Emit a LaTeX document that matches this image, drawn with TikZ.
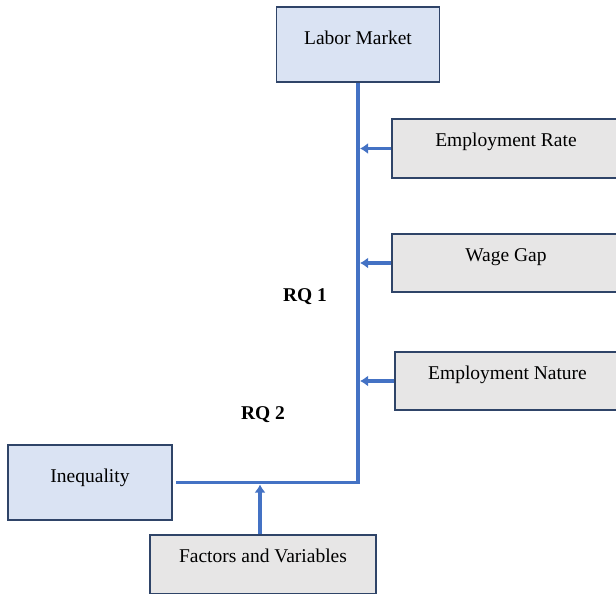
\documentclass[tikz,border=0pt]{standalone}
\usepackage{fontspec}
\setmainfont{Liberation Serif}
\usetikzlibrary{positioning}
\usetikzlibrary{calc}
\usetikzlibrary{arrows,arrows.meta}

\definecolor{boxblue}{HTML}{DAE3F3}
\definecolor{boxgrey}{HTML}{E7E6E6}
\definecolor{boxline}{HTML}{2F4468}
\definecolor{flowblue}{HTML}{4472C4}

\tikzset{
    bluebox/.style={rectangle, draw=boxline, fill=boxblue, line width=1.2pt,
        text height=13pt, text depth=13pt, inner sep=0pt},
    greybox/.style={rectangle, draw=boxline, fill=boxgrey, line width=1.2pt,
        text height=13pt, text depth=17pt, inner sep=0pt},
    flow/.style={draw=flowblue, line width=3.5pt},
    rqlabel/.style={font=\fontsize{19.5}{22}\selectfont\bfseries}
}

\begin{document}
\begin{tikzpicture}[>={Latex[length=8pt,width=11pt]}, x=1pt, y=-1pt, every node/.style={font=\fontsize{19.5}{22}\selectfont}]
    \useasboundingbox (0,0) rectangle (616,594);

    % the boxes
    \node[bluebox, minimum width=163pt, minimum height=75pt] (market) at (358, 44.5) {Labor Market};
    \node[greybox, minimum width=228pt, minimum height=59pt] (rate) at (506, 148.5) {Employment Rate};
    \node[greybox, minimum width=228pt, minimum height=58pt] (gap) at (506, 263) {Wage Gap};
    \node[greybox, minimum width=225pt, minimum height=58pt] (nature) at (507.5, 381) {Employment Nature};
    \node[bluebox, minimum width=164pt, minimum height=75pt] (inequality) at (90, 482.5) {Inequality};
    \node[greybox, minimum width=226pt, minimum height=59pt] (factors) at (263, 564.5) {Factors and Variables};

    % the lines and arrows
    \coordinate (corner) at (market.south |- inequality.east);
    \coordinate (joint) at (260, 484.5);
    \draw[flow] (market.south) -- (corner) -- ([xshift=3pt]inequality.east);
    \draw[flow,->] (rate.west) -- ([xshift=2pt]rate.west -| corner);
    \draw[flow,->] (gap.west) -- ([xshift=2pt]gap.west -| corner);
    \draw[flow,->] (nature.west) -- ([xshift=2pt]nature.west -| corner);
    \draw[flow,->] (joint |- factors.north) -- (joint);

    \node[rqlabel] (rq1) at (305, 297) {RQ 1};
    \node[rqlabel] (rq2) at (263, 415) {RQ 2};
\end{tikzpicture}
\end{document}
